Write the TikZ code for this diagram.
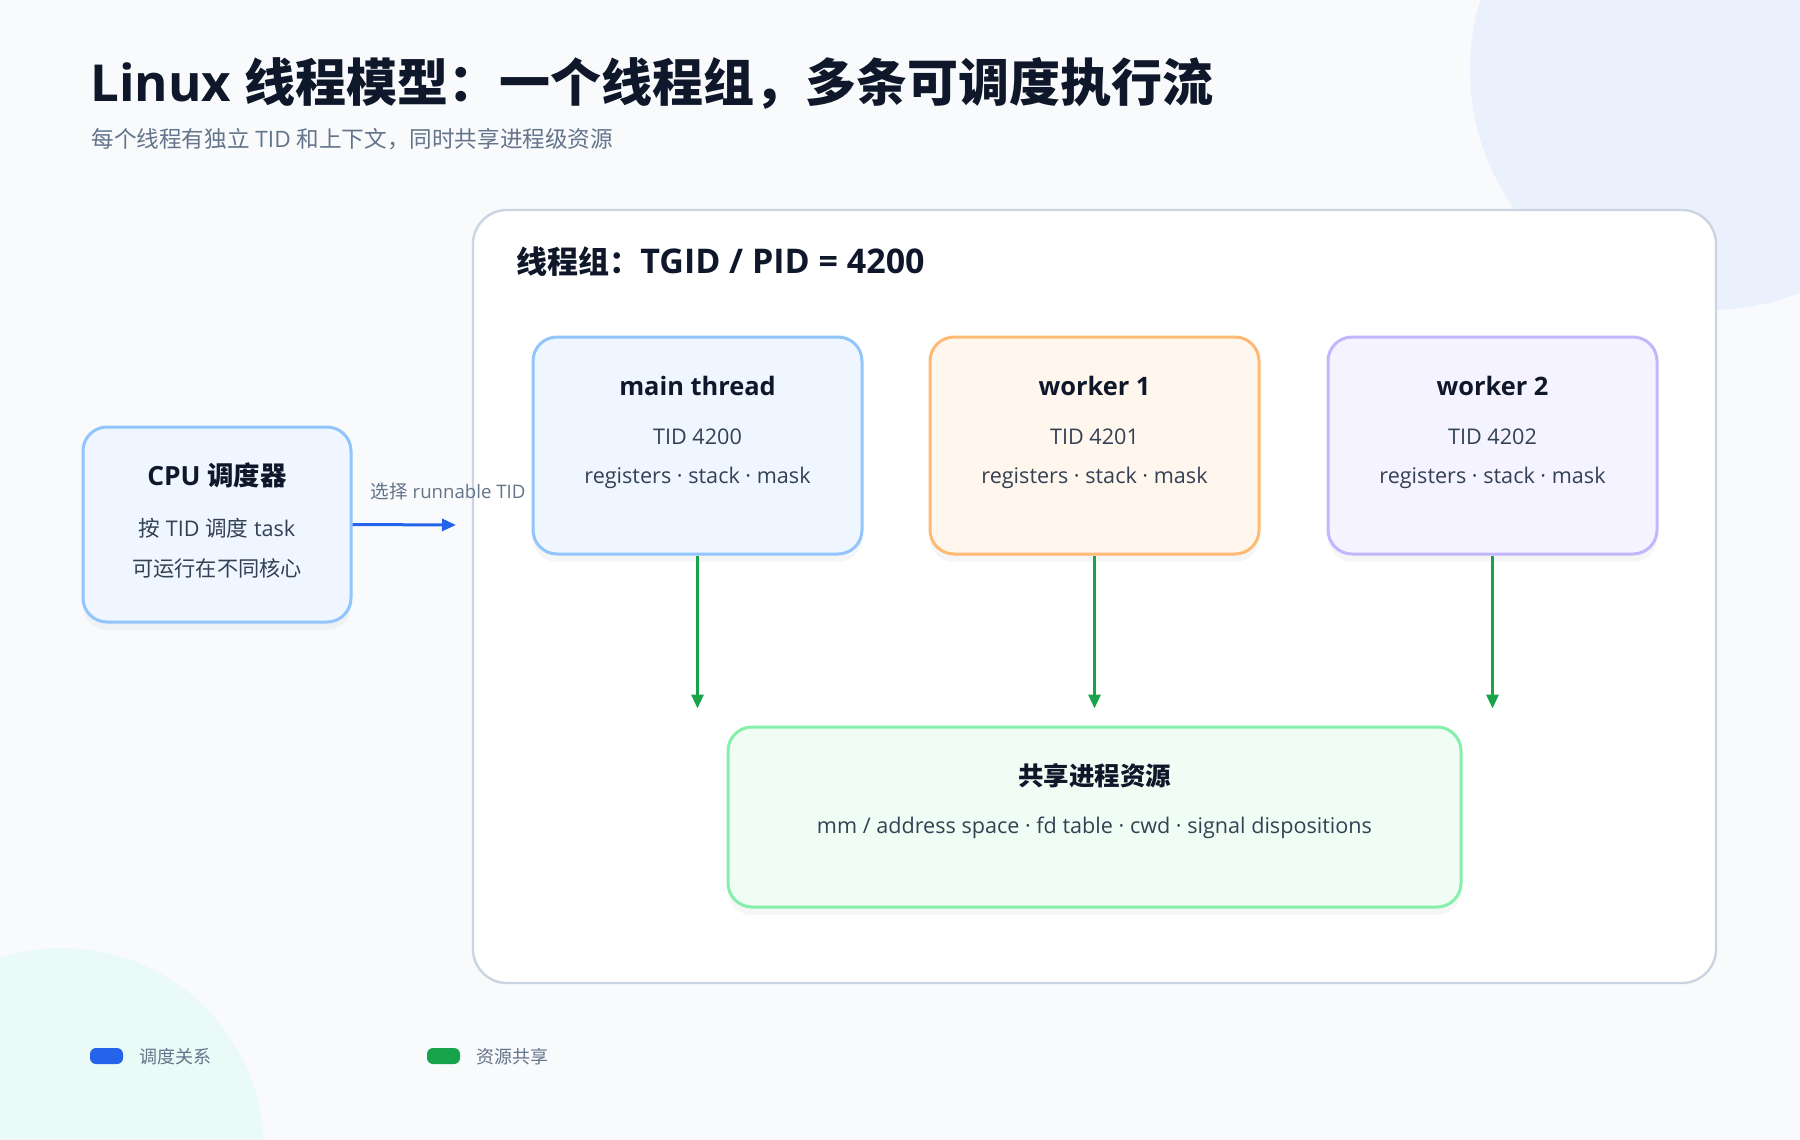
\documentclass[tikz,border=0pt]{standalone}
\usepackage{fontspec}
\setmainfont{Open Sans}
\newfontfamily\cjk{Noto Sans CJK SC}
\usetikzlibrary{arrows.meta,shadows}

\definecolor{bgcol}{HTML}{F8FAFC}
\definecolor{inkdark}{HTML}{0F172A}
\definecolor{inkbody}{HTML}{334155}
\definecolor{inkgray}{HTML}{64748B}
\definecolor{frameline}{HTML}{CBD5E1}
\definecolor{bluefill}{HTML}{EFF6FF}
\definecolor{blueline}{HTML}{93C5FD}
\definecolor{orangefill}{HTML}{FFF7ED}
\definecolor{orangeline}{HTML}{FDBA74}
\definecolor{violetfill}{HTML}{F5F3FF}
\definecolor{violetline}{HTML}{C4B5FD}
\definecolor{greenfill}{HTML}{F0FDF4}
\definecolor{greenline}{HTML}{86EFAC}
\definecolor{schedblue}{HTML}{2563EB}
\definecolor{sharegreen}{HTML}{16A34A}
\definecolor{blobblue}{HTML}{EAF1FD}
\definecolor{blobmint}{HTML}{EAFBF7}

\tikzset{
  soft/.style={drop shadow={opacity=0.07, shadow xshift=0pt, shadow yshift=-4pt}},
  card/.style={draw, line width=1.5pt, rounded corners=12pt, soft},
  threadbox/.style={card, minimum width=164.5pt, minimum height=108.5pt},
  boxtitle/.style={font=\bfseries\fontsize{12.7}{15}\selectfont, text=inkdark},
  boxline/.style={font=\fontsize{10.8}{13}\selectfont, text=inkbody},
  sharearrow/.style={draw=sharegreen, line width=1.5pt, -{Triangle[length=7pt,width=6pt]}, shorten >=8.5pt},
  schedarrow/.style={draw=schedblue, line width=1.5pt, -{Triangle[length=7pt,width=6pt]}},
  legendkey/.style={rounded corners=3pt, minimum width=16.5pt, minimum height=8pt, inner sep=0pt},
  legendtext/.style={font=\cjk\fontsize{9}{11}\selectfont, text=inkgray, anchor=west}
}

\begin{document}
\begin{tikzpicture}[x=0.5pt, y=-0.5pt]

    % 1. Page and background blobs
    \useasboundingbox (0,0) rectangle (1800,1140);
    \fill[bgcol] (0,0) rectangle (1800,1140);
    \begin{scope}
      \clip (0,0) rectangle (1800,1140);
      \fill[blobblue] (1710,70) circle (120pt);
      \fill[blobmint] (62,1150) circle (101pt);
    \end{scope}

    % 2. Headline
    \node[anchor=west, font=\bfseries\fontsize{25.5}{30}\selectfont, text=inkdark, inner sep=0pt]
      (headline) at (90,83) {Linux {\cjk 线程模型：一个线程组，多条可调度执行流}};
    \node[anchor=west, font=\fontsize{11.3}{13}\selectfont, text=inkgray, inner sep=0pt]
      (subline) at (91,139) {{\cjk 每个线程有独立} TID {\cjk 和上下文，同时共享进程级资源}};

    % 3. Thread group frame
    \node[draw=frameline, fill=white, line width=1.2pt, rounded corners=17pt,
      minimum width=621.5pt, minimum height=386.5pt] (group) at (1094.5,596.5) {};
    \node[anchor=west, font=\bfseries\fontsize{17}{20}\selectfont, text=inkdark, inner sep=0pt]
      (grouptitle) at (516,262) {{\cjk\fontsize{15.5}{20}\selectfont 线程组：}TGID / PID = 4200};

    % 4. Threads
    \node[threadbox, draw=blueline, fill=bluefill] (main) at (697.5,445.5) {};
    \node[threadbox, draw=orangeline, fill=orangefill] (worker1) at (1094.5,445.5) {};
    \node[threadbox, draw=violetline, fill=violetfill] (worker2) at (1492.5,445.5) {};

    \node[boxtitle] (mainT) at (697.5,386) {main thread};
    \node[boxline] (mainA) at (697.5,437) {TID 4200};
    \node[boxline] (mainB) at (697.5,478) {registers · stack · mask};

    \node[boxtitle] (w1T) at (1094.5,386) {worker 1};
    \node[boxline] (w1A) at (1094.5,437) {TID 4201};
    \node[boxline] (w1B) at (1094.5,478) {registers · stack · mask};

    \node[boxtitle] (w2T) at (1492.5,386) {worker 2};
    \node[boxline] (w2A) at (1492.5,437) {TID 4202};
    \node[boxline] (w2B) at (1492.5,478) {registers · stack · mask};

    % 5. Shared process resources
    \node[card, draw=greenline, fill=greenfill, minimum width=366.5pt, minimum height=90pt]
      (shared) at (1094.5,817) {};
    \node[boxtitle, font=\cjk\bfseries\fontsize{12.75}{15}\selectfont] (sharedT) at (1094.5,776) {共享进程资源};
    \node[boxline] (sharedA) at (1094.5,828) {mm / address space · fd table · cwd · signal dispositions};

    \draw[sharearrow] (main.south) -- (main.south |- shared.north);
    \draw[sharearrow] (worker1.south) -- (worker1.south |- shared.north);
    \draw[sharearrow] (worker2.south) -- (worker2.south |- shared.north);

    % 6. Scheduler
    \node[card, draw=blueline, fill=bluefill, minimum width=134pt, minimum height=97.5pt]
      (cpu) at (217,524.5) {};
    \node[boxtitle, font=\bfseries\fontsize{13.2}{15}\selectfont] (cpuT) at (217,475) {CPU {\cjk 调度器}};
    \node[boxline] (cpuA) at (217,528) {{\cjk 按} TID {\cjk 调度} task};
    \node[boxline, font=\cjk\fontsize{10.6}{13}\selectfont] (cpuB) at (217,568) {可运行在不同核心};

    \coordinate (pick) at (456,525);
    \draw[schedarrow] (cpu.east) -- (pick);
    \node[font=\fontsize{9.3}{11}\selectfont, text=inkgray] (pickL) at (448,491) {{\cjk 选择} runnable TID};

    % 7. Legend
    \node[legendkey, fill=schedblue] (keyS) at (106.5,1056) {};
    \node[legendtext] (keyST) at (132,1057) {调度关系};
    \node[legendkey, fill=sharegreen] (keyR) at (443.5,1056) {};
    \node[legendtext] (keyRT) at (469,1057) {资源共享};

\end{tikzpicture}
\end{document}
